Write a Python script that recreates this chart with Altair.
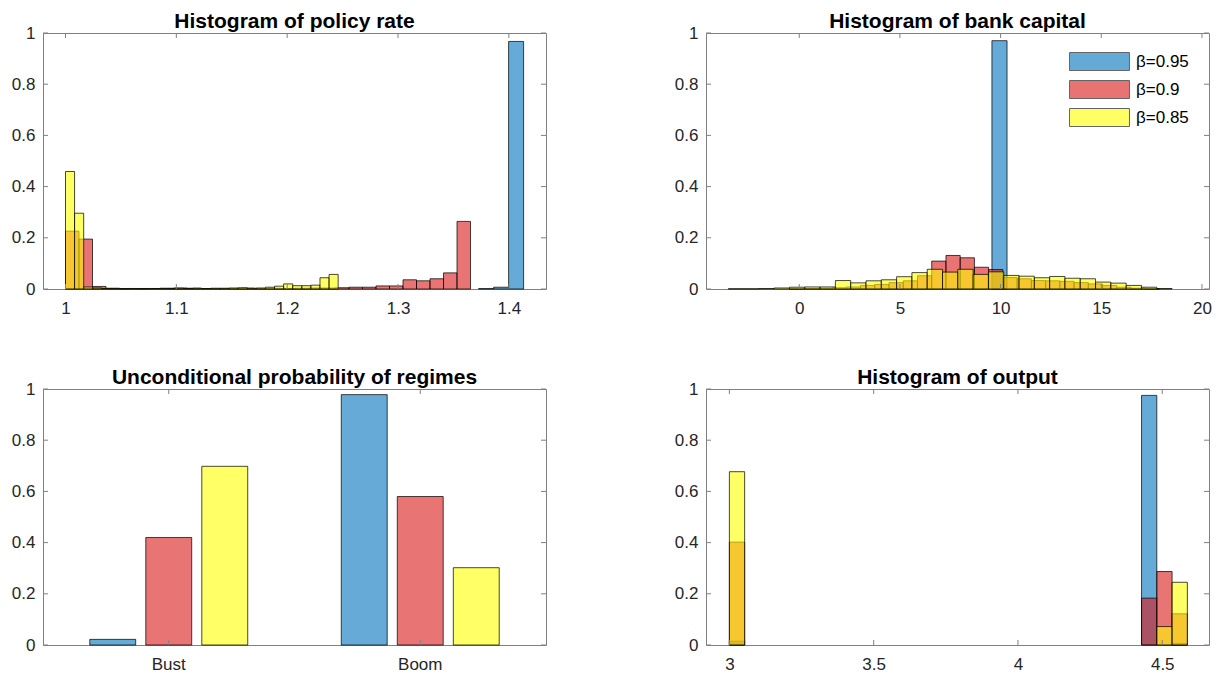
import altair as alt
import pandas as pd

FONT = "Liberation Sans"
AX = "#808080"
SERIES = ["β=0.95", "β=0.9", "β=0.85"]
BASE_COLORS = ["#0072BD", "#D91717", "#FFFF00"]

# ---------- Histogram of policy rate (bin start, bin width, relative frequencies)
rate_blue_start, rate_blue_width = 1.3727, 0.01353
rate_blue = [0.0015, 0.007, 0.967]
rate_red_start, rate_red_width = 1.0, 0.01218
rate_red = [0.226, 0.195, 0.010, 0.003, 0.002, 0.002, 0.002, 0.003, 0.004, 0.003,
            0.002, 0.002, 0.002, 0.003, 0.002, 0.003, 0.002, 0.003, 0.004, 0.004,
            0.005, 0.007, 0.007, 0.012, 0.012, 0.036, 0.032, 0.040, 0.063, 0.264]
rate_yellow_start, rate_yellow_width = 1.0, 0.0082
rate_yellow = [0.459, 0.296, 0.008, 0.004, 0.002, 0.002, 0.001, 0.002, 0.001, 0.002,
               0.002, 0.002, 0.003, 0.002, 0.003, 0.002, 0.003, 0.003, 0.004, 0.005,
               0.003, 0.004, 0.007, 0.011, 0.020, 0.013, 0.013, 0.015, 0.044, 0.057]
rate_xticks = [1.0, 1.1, 1.2, 1.3, 1.4]
rate_xdomain = [0.9797, 1.4335]

# ---------- Histogram of bank capital
cap_blue_start, cap_blue_width = 9.57, 0.75
cap_blue = [0.97]
cap_red_start, cap_red_width = -0.49, 0.707
cap_red = [0.001, 0.002, 0.003, 0.005, 0.008, 0.014, 0.018, 0.025, 0.032, 0.052,
           0.109, 0.131, 0.122, 0.085, 0.076, 0.045, 0.040, 0.033, 0.032, 0.030,
           0.025, 0.020, 0.014, 0.007, 0.003, 0.001]
cap_yellow_start, cap_yellow_width = -3.524, 0.76
cap_yellow = [0.001, 0.001, 0.002, 0.004, 0.007, 0.008, 0.008, 0.033, 0.024, 0.032,
              0.036, 0.048, 0.064, 0.077, 0.066, 0.077, 0.057, 0.067, 0.053, 0.050,
              0.044, 0.049, 0.042, 0.040, 0.027, 0.023, 0.014, 0.007, 0.002]
cap_xticks = [0, 5, 10, 15, 20]
cap_xdomain = [-4.63, 20.35]

# ---------- Unconditional probability of regimes
regimes = ["Bust", "Boom"]
reg_blue = [0.022, 0.978]
reg_red = [0.420, 0.580]
reg_yellow = [0.698, 0.302]

# ---------- Histogram of output (sparse bins: index on a common grid)
out_start, out_width = 3.0, 0.0529
out_bins = [0, 27, 28, 29]
out_blue = [0.015, 0.975, 0.0, 0.006]
out_red = [0.402, 0.183, 0.287, 0.122]
out_yellow = [0.677, 0.0, 0.072, 0.245]
out_xticks = [3, 3.5, 4, 4.5]
out_xdomain = [2.919, 4.662]

yticks = [0, 0.2, 0.4, 0.6, 0.8, 1.0]

W, H, TL = 503, 256, 5


def hist_rows(series, start, width, values, bins=None):
    rows = []
    idx = bins if bins is not None else list(range(len(values)))
    for i, v in zip(idx, values):
        if v <= 0:
            continue
        rows.append({"series": series, "x0": start + i * width,
                     "x1": start + (i + 1) * width, "y": v})
    return rows


def inner_ticks(xenc, yenc, xt, W, H):
    xdf = pd.DataFrame({"t": xt})
    ydf = pd.DataFrame({"u": yticks})
    base = dict(color=AX, strokeWidth=1)
    return [
        alt.Chart(xdf).mark_rule(**base).encode(x=xenc("t"), y=alt.value(H), y2=alt.value(H - TL)),
        alt.Chart(xdf).mark_rule(**base).encode(x=xenc("t"), y=alt.value(0), y2=alt.value(TL)),
        alt.Chart(ydf).mark_rule(**base).encode(y=yenc("u"), x=alt.value(0), x2=alt.value(TL)),
        alt.Chart(ydf).mark_rule(**base).encode(y=yenc("u"), x=alt.value(W), x2=alt.value(W - TL)),
    ]


ys = alt.Scale(domain=[0, 1], nice=False, zero=True)
yax = alt.Axis(values=yticks, format="~g", title=None)


def yenc(f):
    return alt.Y(f, type="quantitative", scale=ys, axis=yax)


def color_enc(legend):
    if legend:
        return alt.Color("series:N", scale=alt.Scale(domain=SERIES, range=BASE_COLORS),
                         legend=alt.Legend(orient="none", legendX=384, legendY=19, title=None,
                                           symbolType="M-3.33,-1H3.33V1H-3.33Z", symbolSize=324,
                                           symbolOpacity=0.6, symbolStrokeColor="black",
                                           symbolStrokeWidth=1, labelFont=FONT, labelFontSize=17,
                                           labelColor="#000", labelOffset=27, rowPadding=5,
                                           padding=0))
    return alt.Color("series:N", scale=alt.Scale(domain=SERIES, range=BASE_COLORS), legend=None)


def hist_panel(df, title, xdom, xt, legend=False):
    xs = alt.Scale(domain=xdom, nice=False, zero=False)
    xax = alt.Axis(values=xt, format="~g", title=None, labelAngle=0)

    def xenc(f):
        return alt.X(f, type="quantitative", scale=xs, axis=xax)

    layers = []
    for s in SERIES:
        layers.append(
            alt.Chart(df).transform_filter(alt.datum.series == s)
            .mark_bar(fillOpacity=0.6, stroke="black", strokeWidth=0.8, strokeOpacity=0.9)
            .encode(x=xenc("x0"), x2="x1", y=yenc("y"), y2=alt.datum(0), color=color_enc(legend))
        )
    layers += inner_ticks(xenc, yenc, xt, W, H)
    return alt.layer(*layers).properties(width=W, height=H, title=title)


rate_df = pd.DataFrame(
    hist_rows(SERIES[0], rate_blue_start, rate_blue_width, rate_blue)
    + hist_rows(SERIES[1], rate_red_start, rate_red_width, rate_red)
    + hist_rows(SERIES[2], rate_yellow_start, rate_yellow_width, rate_yellow))
cap_df = pd.DataFrame(
    hist_rows(SERIES[0], cap_blue_start, cap_blue_width, cap_blue)
    + hist_rows(SERIES[1], cap_red_start, cap_red_width, cap_red)
    + hist_rows(SERIES[2], cap_yellow_start, cap_yellow_width, cap_yellow))
out_df = pd.DataFrame(
    hist_rows(SERIES[0], out_start, out_width, out_blue, out_bins)
    + hist_rows(SERIES[1], out_start, out_width, out_red, out_bins)
    + hist_rows(SERIES[2], out_start, out_width, out_yellow, out_bins))

tl = hist_panel(rate_df, "Histogram of policy rate", rate_xdomain, rate_xticks)
tr = hist_panel(cap_df, "Histogram of bank capital", cap_xdomain, cap_xticks, legend=True)
br = hist_panel(out_df, "Histogram of output", out_xdomain, out_xticks)

# ---------- grouped bar panel
reg_rows = []
for s, vals in zip(SERIES, [reg_blue, reg_red, reg_yellow]):
    for c, v in zip(regimes, vals):
        reg_rows.append({"regime": c, "series": s, "value": v})
reg_df = pd.DataFrame(reg_rows)

xband = alt.Scale(domain=regimes, paddingInner=0, paddingOuter=0)
xbax = alt.Axis(title=None, labelAngle=0)


def xcat(f):
    return alt.X(f, type="nominal", scale=xband, axis=xbax, sort=regimes)


bars = alt.Chart(reg_df).mark_bar(fillOpacity=0.6, stroke="black", strokeWidth=0.8, strokeOpacity=0.9).encode(
    x=xcat("regime"),
    xOffset=alt.XOffset("series:N", sort=SERIES,
                        scale=alt.Scale(domain=SERIES, paddingInner=0.18, paddingOuter=0.835)),
    y=yenc("value"), y2=alt.datum(0),
    color=color_enc(False),
)
reg_ticks = inner_ticks(xcat, yenc, regimes, W, H)
bl = alt.layer(bars, *reg_ticks).properties(width=W, height=H,
                                             title="Unconditional probability of regimes")

chart = (
    alt.concat(tl, tr, bl, br, columns=2, spacing={"row": 100, "column": 160}, bounds="flush")
    .resolve_scale(color="independent")
    .properties(padding={"left": 10, "top": 10, "right": 0, "bottom": 0})
    .configure_view(stroke=AX, strokeWidth=1)
    .configure_axis(domain=False, ticks=False, grid=False, labelFont=FONT, labelFontSize=17,
                    labelColor="#262626", labelPadding=8)
    .configure_axisX(labelPadding=11)
    .configure_title(font=FONT, fontSize=21, fontWeight="bold", color="#000", offset=-8,
                     baseline="alphabetic")
    .configure_legend(labelFont=FONT)
)

chart.save("out.html", embed_options={"renderer": "svg", "actions": False})
